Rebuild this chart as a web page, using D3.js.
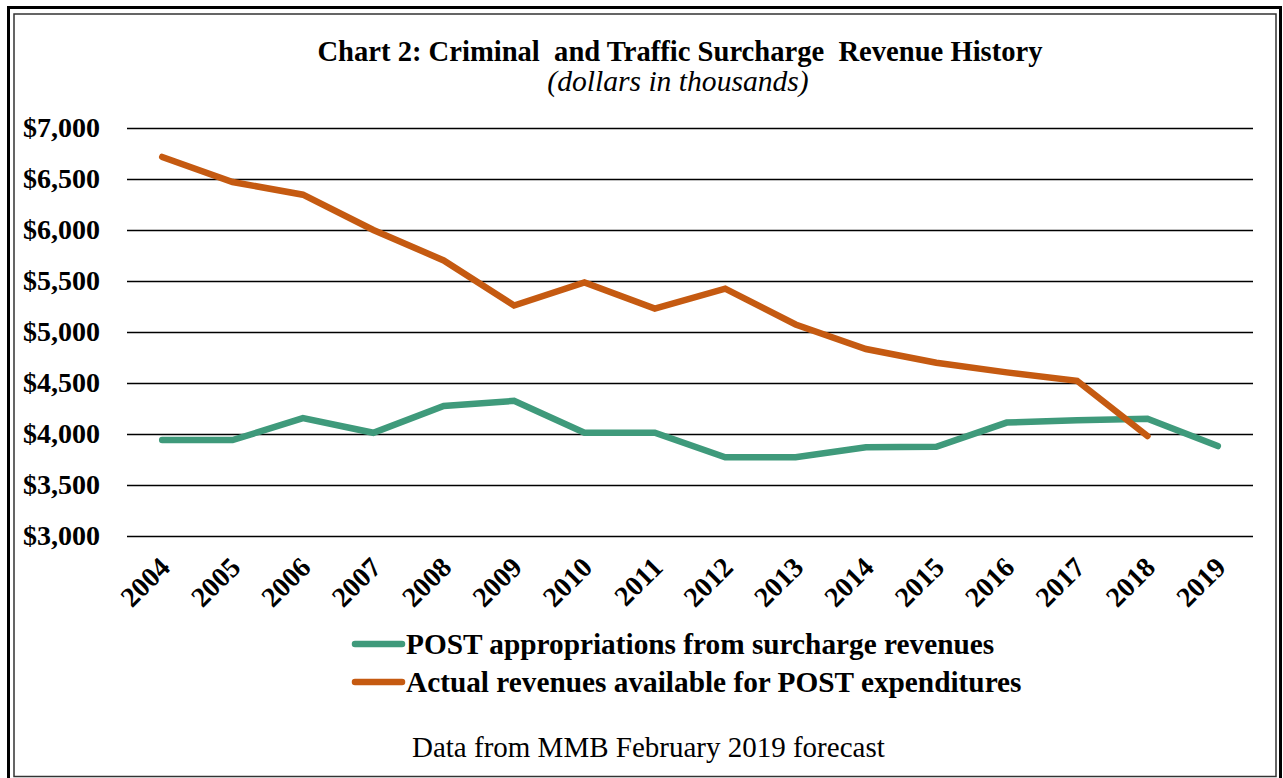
<!DOCTYPE html>
<html>
<head>
<meta charset="utf-8">
<script src="https://cdn.jsdelivr.net/npm/d3@7"></script>
<style>
  body { margin: 0; background: #fff; }
  text { font-family: "Liberation Serif", "Times New Roman", serif; }
</style>
</head>
<body>
<svg id="chart" width="1283" height="778"></svg>
<script>
// data (dollars in thousands)
var years = ["2004", "2005", "2006", "2007", "2008", "2009", "2010", "2011",
             "2012", "2013", "2014", "2015", "2016", "2017", "2018", "2019"];
var appropriations = [3940, 3940, 4155, 4012, 4275, 4325, 4012, 4012,
                      3772, 3772, 3870, 3875, 4112, 4135, 4150, 3882];
var actualRevenues = [6716, 6470, 6346, 6000, 5702, 5260, 5485, 5230,
                      5425, 5074, 4833, 4698, 4604, 4522, 3980];
var yTicks = [3000, 3500, 4000, 4500, 5000, 5500, 6000, 6500, 7000];
var seriesNames = ["POST appropriations from surcharge revenues",
                   "Actual revenues available for POST expenditures"];
var seriesColors = ["#3f9a7b", "#c55a11"];

var svg = d3.select("#chart");

// double frame
svg.append("rect")
    .attr("x", 8.5).attr("y", 7.5)
    .attr("width", 1272).attr("height", 790)
    .attr("fill", "none").attr("stroke", "#000").attr("stroke-width", 3);
svg.append("rect")
    .attr("x", 14).attr("y", 14)
    .attr("width", 1262).attr("height", 762.5)
    .attr("fill", "none").attr("stroke", "#333").attr("stroke-width", 1.5);

var x = d3.scalePoint()
    .domain(years)
    .range([127, 1253])
    .padding(0.5);

var y = d3.scaleLinear()
    .domain([3000, 7000])
    .range([536, 128]);

// titles
svg.append("text")
    .attr("x", 680).attr("y", 61)
    .attr("text-anchor", "middle")
    .style("white-space", "pre")
    .attr("font-size", 28.6).attr("font-weight", "bold")
    .text("Chart 2: Criminal  and Traffic Surcharge  Revenue History");

svg.append("text")
    .attr("x", 678).attr("y", 91)
    .attr("text-anchor", "middle")
    .attr("font-size", 29.6).attr("font-style", "italic")
    .text("(dollars in thousands)");

// y axis + gridlines
var yAxis = svg.append("g")
    .attr("transform", "translate(127,0)")
    .call(d3.axisLeft(y)
        .tickValues(yTicks)
        .tickSize(-(1253 - 127))
        .tickPadding(27)
        .tickFormat(d3.format("$,")));
yAxis.select(".domain").remove();
yAxis.selectAll(".tick line")
    .attr("stroke", "#000").attr("stroke-width", 1.5);
yAxis.selectAll(".tick text")
    .attr("font-family", "Liberation Serif")
    .attr("font-size", 28).attr("font-weight", "bold")
    .attr("fill", "#000");

// x axis
var xAxis = svg.append("g")
    .attr("transform", "translate(0,536)")
    .call(d3.axisBottom(x).tickSize(0).tickPadding(0));
xAxis.select(".domain").remove();
xAxis.selectAll(".tick text")
    .attr("font-family", "Liberation Serif")
    .attr("font-size", 28).attr("font-weight", "bold")
    .attr("fill", "#000")
    .attr("text-anchor", "end")
    .attr("dy", null)
    .attr("y", 0)
    .attr("transform", "translate(9,33) rotate(-45)");

// lines
var line = d3.line()
    .x(function(d, i) { return x(years[i]); })
    .y(function(d) { return y(d); });

[appropriations, actualRevenues].forEach(function(s, i) {
    svg.append("path")
        .datum(s)
        .attr("d", line)
        .attr("fill", "none")
        .attr("stroke", seriesColors[i])
        .attr("stroke-width", 6.5)
        .attr("stroke-linecap", "round")
        .attr("stroke-linejoin", "miter");
});

// legend
var legend = svg.append("g")
    .selectAll("g")
    .data(seriesNames)
    .enter().append("g")
    .attr("transform", function(d, i) { return "translate(352," + (644 + i * 38) + ")"; });

legend.append("line")
    .attr("x1", 3).attr("x2", 50)
    .attr("stroke", function(d, i) { return seriesColors[i]; })
    .attr("stroke-width", 6.5)
    .attr("stroke-linecap", "round");

legend.append("text")
    .attr("x", 54).attr("y", 10)
    .attr("font-size", 29.3).attr("font-weight", "bold")
    .text(function(d) { return d; });

svg.append("text")
    .attr("x", 412).attr("y", 757)
    .attr("font-size", 29)
    .text("Data from MMB February 2019 forecast");
</script>
</body>
</html>
